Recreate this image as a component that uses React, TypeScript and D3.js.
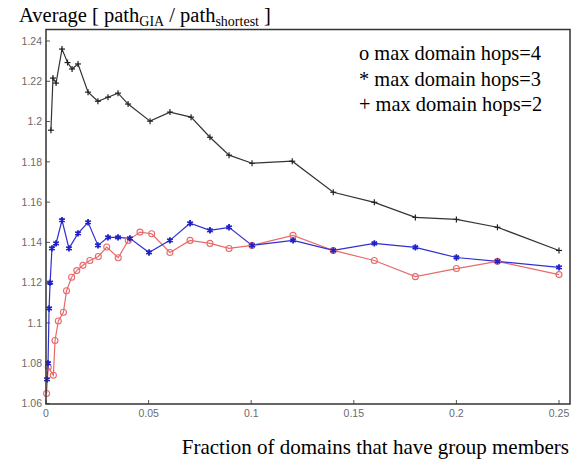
import React from 'react';
import * as d3 from 'd3';

// max domain hops = 2 (+, black)
const hops2X = [0.0024, 0.0034, 0.0049, 0.0078, 0.0105, 0.0127, 0.0156, 0.0205, 0.0253, 0.0302, 0.0351, 0.04, 0.0507, 0.0604, 0.0707, 0.0799, 0.0892, 0.1004, 0.12, 0.14, 0.16, 0.18, 0.2, 0.22, 0.25];
const hops2Y = [1.1957, 1.2216, 1.2191, 1.236, 1.2293, 1.2261, 1.2286, 1.2146, 1.2101, 1.2121, 1.2141, 1.2087, 1.2002, 1.2047, 1.2022, 1.1922, 1.1833, 1.1793, 1.1803, 1.1649, 1.1599, 1.1524, 1.1514, 1.1475, 1.136];

// max domain hops = 3 (*, blue)
const hops3X = [0.0005, 0.001, 0.0015, 0.002, 0.0029, 0.0049, 0.0078, 0.0112, 0.0156, 0.0205, 0.0253, 0.0302, 0.0351, 0.0409, 0.0502, 0.0604, 0.0702, 0.0799, 0.0892, 0.1004, 0.1204, 0.14, 0.16, 0.18, 0.2, 0.22, 0.25];
const hops3Y = [1.072, 1.08, 1.1072, 1.12, 1.137, 1.1395, 1.151, 1.137, 1.1445, 1.15, 1.1385, 1.1425, 1.1425, 1.142, 1.135, 1.141, 1.1495, 1.146, 1.1475, 1.1385, 1.141, 1.136, 1.1395, 1.1375, 1.1325, 1.1306, 1.1276];

// max domain hops = 4 (o, red)
const hops4X = [0.0003, 0.0011, 0.0036, 0.0044, 0.006, 0.0085, 0.01, 0.0125, 0.015, 0.018, 0.0214, 0.0255, 0.0296, 0.0352, 0.0401, 0.0458, 0.0515, 0.0604, 0.0702, 0.0799, 0.0892, 0.1004, 0.1204, 0.14, 0.16, 0.18, 0.2, 0.22, 0.25];
const hops4Y = [1.065, 1.078, 1.074, 1.0913, 1.101, 1.1053, 1.116, 1.1227, 1.126, 1.1286, 1.131, 1.133, 1.1377, 1.1324, 1.141, 1.1451, 1.1443, 1.135, 1.141, 1.1395, 1.137, 1.1385, 1.1435, 1.136, 1.131, 1.123, 1.127, 1.1306, 1.124];

const xTicks = [0, 0.05, 0.1, 0.15, 0.2, 0.25];
const xTickLabels = ['0', '0.05', '0.1', '0.15', '0.2', '0.25'];
const yTicks = [1.06, 1.08, 1.1, 1.12, 1.14, 1.16, 1.18, 1.2, 1.22, 1.24];
const yTickLabels = ['1.06', '1.08', '1.1', '1.12', '1.14', '1.16', '1.18', '1.2', '1.22', '1.24'];
const legendLabels = ['o max domain hops=4', '* max domain hops=3', '+ max domain hops=2'];

const frame = { left: 46, right: 570, top: 29.5, bottom: 404 };
const serif = '"Liberation Serif", "Times New Roman", serif';
const sans = '"Liberation Sans", Arial, sans-serif';

export default function App() {
  const x = d3.scaleLinear().domain([0, 0.25]).range([46, 559]);
  const y = d3.scaleLinear().domain([1.06, 1.24]).range([403.5, 41]);

  const zip = (xs: number[], ys: number[]) => xs.map((v, i) => [v, ys[i]] as [number, number]);
  const line = d3.line<[number, number]>().x(d => x(d[0])).y(d => y(d[1]));

  const black = zip(hops2X, hops2Y);
  const blue = zip(hops3X, hops3Y);
  const red = zip(hops4X, hops4Y);

  const star = d3.symbol(d3.symbolAsterisk, 28)();

  return (
    <div style={{ position: 'absolute', left: 0, top: 0 }}>
      <svg width={577} height={460} style={{ display: 'block', background: '#fff' }}>
        {/* y-axis title */}
        <text x={19} y={22} fontFamily={serif} fontSize={20.5} fill="#000">
          Average [ path
          <tspan fontSize={14} dy={4}>GIA</tspan>
          <tspan dy={-4}> / path</tspan>
          <tspan fontSize={14} dy={4}>shortest</tspan>
          <tspan dy={-4}> ]</tspan>
        </text>

        {/* ticks */}
        {yTicks.map((t, i) => (
          <g key={'y' + i}>
            <line x1={frame.left} x2={frame.left + 4} y1={y(t)} y2={y(t)} stroke="#555" strokeWidth={1} />
            <text x={42} y={y(t)} dy="0.35em" textAnchor="end" fontFamily={sans} fontSize={10.5} fill="#6a6a6a">{yTickLabels[i]}</text>
          </g>
        ))}
        {xTicks.map((t, i) => (
          <g key={'x' + i}>
            <line x1={x(t)} x2={x(t)} y1={frame.bottom} y2={frame.bottom - 4} stroke="#555" strokeWidth={1} />
            <text x={x(t)} y={417} textAnchor="middle" fontFamily={sans} fontSize={10.5} fill="#6a6a6a">{xTickLabels[i]}</text>
          </g>
        ))}

        {/* series lines */}
        <path d={line(red) || ''} fill="none" stroke="#e86a6a" strokeWidth={1.2} />
        <path d={line(blue) || ''} fill="none" stroke="#3030d0" strokeWidth={1.2} />
        <path d={line(black) || ''} fill="none" stroke="#333" strokeWidth={1.2} />

        {/* markers */}
        {red.map((d, i) => (
          <circle key={'r' + i} cx={x(d[0])} cy={y(d[1])} r={3} fill="none" stroke="#e86a6a" strokeWidth={1.1} />
        ))}
        {blue.map((d, i) => (
          <path key={'b' + i} d={star || ''} transform={`translate(${x(d[0])},${y(d[1])})`} fill="none" stroke="#2020c8" strokeWidth={1.8} />
        ))}
        {black.map((d, i) => (
          <g key={'k' + i} transform={`translate(${x(d[0])},${y(d[1])})`} stroke="#222" strokeWidth={1.2}>
            <line x1={-3} x2={3} y1={0} y2={0} />
            <line x1={0} x2={0} y1={-3} y2={3} />
          </g>
        ))}

        {/* frame */}
        <rect x={frame.left} y={frame.top} width={frame.right - frame.left} height={frame.bottom - frame.top} fill="none" stroke="#333" strokeWidth={1.5} />

        {/* legend */}
        {legendLabels.map((s, i) => (
          <text key={'l' + i} x={359} y={60 + i * 25.5} fontFamily={serif} fontSize={20.4} fill="#000">{s}</text>
        ))}

        {/* x-axis title */}
        <text x={569} y={454} textAnchor="end" fontFamily={serif} fontSize={21} fill="#000">Fraction of domains that have group members</text>
      </svg>
    </div>
  );
}
